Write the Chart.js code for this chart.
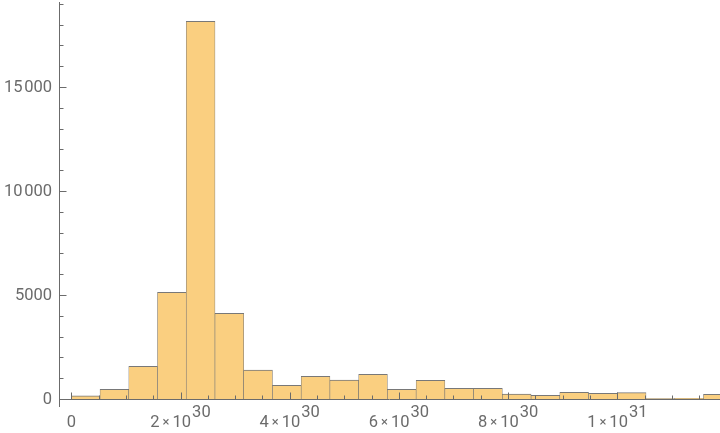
<!DOCTYPE html>
<html>
<head>
<meta charset="utf-8">
<script src="https://cdn.jsdelivr.net/npm/chart.js@4/dist/chart.umd.min.js"></script>
<style>
  html, body { margin: 0; padding: 0; background: #fff; }
  #wrap { width: 720px; height: 433px; position: relative; }
</style>
</head>
<body>
<div id="wrap"><canvas id="chart"></canvas></div>
<script>
// x values are in units of 10^30
const binStart = 0;
const binWidth = 0.5263;
const counts = [150, 470, 1570, 5130, 18160, 4120, 1390, 660, 1090, 910, 1190, 470,
                900, 515, 515, 240, 180, 320, 275, 305, 20, 35, 225];

const yMajorTicks = [0, 5000, 10000, 15000];
const yMajorLabels = ['0', '5000', '10\u200a000', '15\u200a000'];
const yMinorTicks = [1000, 2000, 3000, 4000, 6000, 7000, 8000, 9000, 11000, 12000,
                     13000, 14000, 16000, 17000, 18000, 19000];

const xMajorTicks = [0, 2, 4, 6, 8, 10];
const xMajorLabels = [['0', ''], ['2', '30'], ['4', '30'], ['6', '30'], ['8', '30'], ['1', '31']];
const xMinorTicks = [0.5, 1, 1.5, 2.5, 3, 3.5, 4.5, 5, 5.5, 6.5, 7, 7.5, 8.5, 9, 9.5,
                     10.5, 11, 11.5];

const axisColor = '#6b6b6b';
const labelColor = '#6b6b6b';
const labelFont = '16.5px Roboto';

const mmaAxes = {
  id: 'mmaAxes',
  afterDatasetsDraw(chart) {
    const { ctx, chartArea, scales } = chart;
    const xs = scales.x, ys = scales.y;
    const y0 = Math.round(ys.getPixelForValue(0)) + 0.5;
    const xl = chartArea.left + 0.5;

    ctx.save();
    ctx.strokeStyle = axisColor;
    ctx.lineWidth = 1;
    ctx.beginPath();
    // axes
    ctx.moveTo(chartArea.left, y0); ctx.lineTo(chartArea.right, y0);
    ctx.moveTo(xl, chartArea.top); ctx.lineTo(xl, chartArea.bottom);
    // x ticks (pointing up, drawn over bars)
    xMajorTicks.forEach(v => {
      const p = Math.round(xs.getPixelForValue(v)) + 0.5;
      ctx.moveTo(p, y0); ctx.lineTo(p, y0 - 7);
    });
    xMinorTicks.forEach(v => {
      const p = Math.round(xs.getPixelForValue(v)) + 0.5;
      ctx.moveTo(p, y0); ctx.lineTo(p, y0 - 4);
    });
    // y ticks (pointing right)
    yMajorTicks.forEach(v => {
      const p = Math.round(ys.getPixelForValue(v)) + 0.5;
      ctx.moveTo(xl, p); ctx.lineTo(xl + 7, p);
    });
    yMinorTicks.forEach(v => {
      const p = Math.round(ys.getPixelForValue(v)) + 0.5;
      ctx.moveTo(xl, p); ctx.lineTo(xl + 4, p);
    });
    ctx.stroke();

    // labels
    ctx.fillStyle = labelColor;
    ctx.font = labelFont;
    ctx.textBaseline = 'middle';
    ctx.textAlign = 'right';
    yMajorTicks.forEach((v, i) => {
      ctx.fillText(yMajorLabels[i], 52, ys.getPixelForValue(v) + 1);
    });

    ctx.textBaseline = 'alphabetic';
    ctx.textAlign = 'left';
    const base = 426.5;
    xMajorTicks.forEach((v, i) => {
      const [lead, sup] = xMajorLabels[i];
      const p = xs.getPixelForValue(v);
      if (!sup) {
        ctx.font = labelFont;
        const w = ctx.measureText(lead).width;
        ctx.fillText(lead, p - w / 2, base);
        return;
      }
      ctx.font = labelFont;
      const wLead = ctx.measureText(lead).width;
      const wTen = ctx.measureText('10').width;
      const wSup = ctx.measureText(sup).width;
      ctx.font = '13px Roboto';
      const wTimes = ctx.measureText('×').width;
      const gap = 3;
      const total = wLead + gap + wTimes + gap + wTen + wSup + 1;
      let cx = p - total / 2;
      ctx.font = labelFont;
      ctx.fillText(lead, cx, base);
      cx += wLead + gap;
      ctx.font = '13px Roboto';
      ctx.fillText('×', cx, base - 1);
      cx += wTimes + gap;
      ctx.font = labelFont;
      ctx.fillText('10', cx, base);
      cx += wTen + 1;
      ctx.fillText(sup, cx, base - 9.5);
    });
    ctx.restore();
  }
};

const points = counts.map((c, i) => ({ x: binStart + (i + 0.5) * binWidth, y: c }));

new Chart(document.getElementById('chart'), {
  type: 'bar',
  data: {
    datasets: [{
      data: points,
      backgroundColor: 'rgb(250, 207, 128)',
      borderColor: 'rgba(105, 105, 105, 0.9)',
      borderWidth: { top: 1, left: 0.6, right: 0.6, bottom: 0 },
      borderSkipped: false,
      categoryPercentage: 1,
      barPercentage: 1
    }]
  },
  options: {
    responsive: true,
    maintainAspectRatio: false,
    animation: false,
    layout: { padding: { left: 59, right: 0, top: 2, bottom: 26 } },
    plugins: { legend: { display: false }, tooltip: { enabled: false } },
    scales: {
      x: { type: 'linear', min: -0.2253, max: 11.881, offset: false, display: false },
      y: { min: -385, max: 19087, display: false }
    }
  },
  plugins: [mmaAxes]
});
</script>
</body>
</html>
